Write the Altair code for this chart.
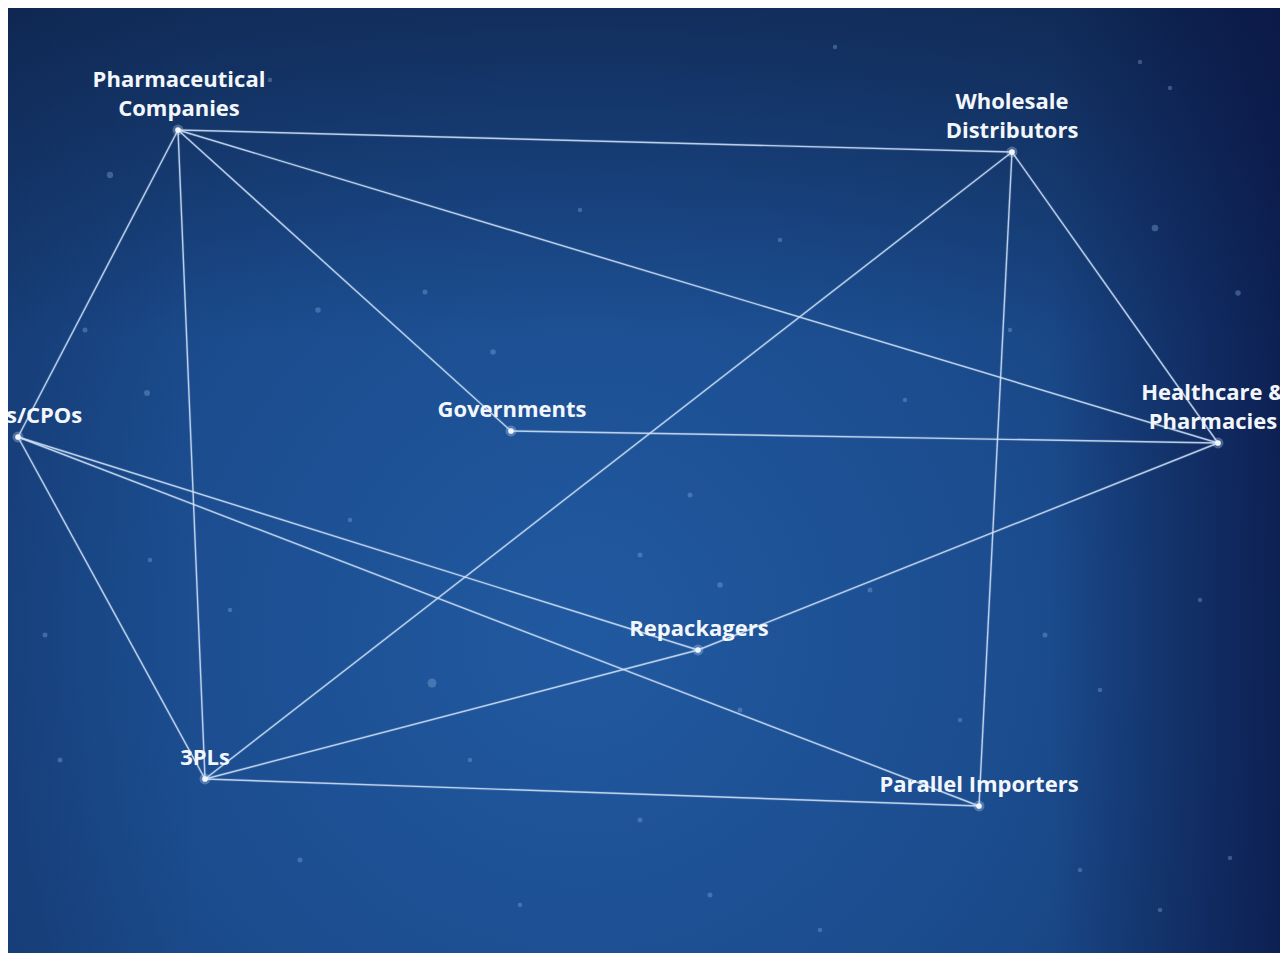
import altair as alt
import pandas as pd

# ---- data (pixel-like coordinates of the diagram) ----
node_names = ["Pharmaceutical Companies", "Wholesale Distributors", "CMOs/CPOs", "Governments",
              "Healthcare & Pharmacies", "Repackagers", "3PLs", "Parallel Importers"]
node_x = [178, 1012, 18, 511, 1218, 698, 205, 979]
node_y = [130, 152, 437, 431, 443, 650, 779, 806]
# label as it shows in the picture: upper line (if any) and lower line
label_top = ["Pharmaceutical", "Wholesale", "", "", "Healthcare &", "", "", ""]
label_bottom = ["Companies", "Distributors", "s/CPOs", "Governments", "Pharmacies",
                "Repackagers", "3PLs", "Parallel Importers"]
label_align = ["center", "center", "left", "center", "center", "center", "center", "center"]
label_x = [179, 1012, 6, 512, 1213, 699, 205, 979]

edge_source = ["Pharmaceutical Companies", "Pharmaceutical Companies", "Pharmaceutical Companies",
               "Pharmaceutical Companies", "Pharmaceutical Companies", "Wholesale Distributors",
               "Wholesale Distributors", "Wholesale Distributors", "Governments", "CMOs/CPOs",
               "CMOs/CPOs", "CMOs/CPOs", "Healthcare & Pharmacies", "Repackagers", "3PLs"]
edge_target = ["Wholesale Distributors", "Healthcare & Pharmacies", "Governments", "3PLs",
               "CMOs/CPOs", "Healthcare & Pharmacies", "Parallel Importers", "3PLs",
               "Healthcare & Pharmacies", "3PLs", "Repackagers", "Parallel Importers",
               "Repackagers", "3PLs", "Parallel Importers"]

# faint background particles seen in the picture
particle_x = [110, 318, 425, 493, 147, 1140, 1155, 1238, 1170, 835, 432, 45, 720, 740, 690,
              640, 1045, 1100, 960, 870, 300, 520, 710, 1080, 1160, 1230, 60, 85, 230, 640,
              270, 580, 780, 905, 1010, 350, 150, 1200, 470, 820]
particle_y = [175, 310, 292, 352, 393, 62, 228, 293, 88, 47, 683, 635, 585, 710, 495,
              555, 635, 690, 720, 590, 860, 905, 895, 870, 910, 858, 760, 330, 610, 820,
              80, 210, 240, 400, 330, 520, 560, 600, 760, 930]
particle_size = [40, 30, 25, 30, 35, 20, 45, 30, 20, 20, 80, 25, 30, 25, 25,
                 25, 25, 20, 20, 25, 25, 20, 25, 20, 20, 20, 25, 25, 20, 25,
                 20, 20, 20, 20, 20, 20, 20, 20, 20, 20]

W, H = 1272, 945
X0, X1 = 8, 8 + W
Y0, Y1 = 8, 8 + H

pos = {n: (x, y) for n, x, y in zip(node_names, node_x, node_y)}
nodes = pd.DataFrame({"name": node_names, "x": node_x, "y": node_y})
edges = pd.DataFrame({
    "x": [pos[s][0] for s in edge_source], "y": [pos[s][1] for s in edge_source],
    "x2": [pos[t][0] for t in edge_target], "y2": [pos[t][1] for t in edge_target],
})
labels = pd.DataFrame({"x": label_x, "y": node_y, "top": label_top, "bottom": label_bottom,
                       "align": label_align})
particles = pd.DataFrame({"x": particle_x, "y": particle_y, "s": particle_size})

xs = alt.Scale(domain=[X0, X1], nice=False, zero=False)
ys = alt.Scale(domain=[Y0, Y1], nice=False, zero=False, reverse=True)
X = lambda f: alt.X(f, type="quantitative", scale=xs, axis=None)
Y = lambda f: alt.Y(f, type="quantitative", scale=ys, axis=None)

bg_grad = alt.RadialGradient(
    gradient="radial",
    x1=0.45, y1=0.62, r1=0.0, x2=0.45, y2=0.62, r2=0.78,
    stops=[alt.GradientStop(offset=0, color="#2159a0"),
           alt.GradientStop(offset=0.45, color="#1b4c8e"),
           alt.GradientStop(offset=0.8, color="#163d76"),
           alt.GradientStop(offset=1, color="#10295c")],
)
edge_grad = alt.LinearGradient(
    gradient="linear", x1=0, y1=0, x2=1, y2=0,
    stops=[alt.GradientStop(offset=0, color="rgba(12,30,70,0.15)"),
           alt.GradientStop(offset=0.15, color="rgba(12,30,70,0)"),
           alt.GradientStop(offset=0.82, color="rgba(10,22,70,0)"),
           alt.GradientStop(offset=1, color="rgba(10,22,70,0.75)")],
)
top_grad = alt.LinearGradient(
    gradient="linear", x1=0, y1=0, x2=0, y2=1,
    stops=[alt.GradientStop(offset=0, color="rgba(12,28,62,0.55)"),
           alt.GradientStop(offset=0.35, color="rgba(12,28,62,0)"),
           alt.GradientStop(offset=1, color="rgba(12,28,62,0)")],
)
one = pd.DataFrame({"a": [0]})
full = dict(x=alt.value(0), x2=alt.value(W), y=alt.value(0), y2=alt.value(H))
bg = alt.Chart(one).mark_rect(color=bg_grad).encode(**full)
bg2 = alt.Chart(one).mark_rect(color=edge_grad).encode(**full)
bg3 = alt.Chart(one).mark_rect(color=top_grad).encode(**full)

parts = alt.Chart(particles).mark_circle(color="#8fb4e6", opacity=0.35).encode(
    x=X("x"), y=Y("y"), size=alt.Size("s:Q", scale=None, legend=None))

edge_glow = alt.Chart(edges).mark_rule(color="#9fc3ee", strokeWidth=3, opacity=0.18).encode(
    x=X("x"), y=Y("y"), x2="x2", y2="y2")
edge_layer = alt.Chart(edges).mark_rule(color="#d3e4f7", strokeWidth=1.4, opacity=0.85).encode(
    x=X("x"), y=Y("y"), x2="x2", y2="y2")

glow = alt.Chart(nodes).mark_circle(color="#cfe4ff", size=120, opacity=0.3).encode(x=X("x"), y=Y("y"))
dots = alt.Chart(nodes).mark_circle(color="#f2f8ff", size=32, opacity=1).encode(x=X("x"), y=Y("y"))

txt_style = dict(font="Open Sans", fontSize=22, fontWeight="bold", color="#f3f7fc",
                 baseline="middle")
layers = [bg, bg3, bg2, parts, edge_glow, edge_layer, glow, dots]
for a in ["center", "left"]:
    sub = labels[labels["align"] == a]
    layers.append(alt.Chart(sub).mark_text(align=a, dy=-21, **txt_style).encode(
        x=X("x"), y=Y("y"), text="bottom:N"))
    layers.append(alt.Chart(sub).mark_text(align=a, dy=-50, **txt_style).encode(
        x=X("x"), y=Y("y"), text="top:N"))

chart = alt.layer(*layers).properties(
    width=W, height=H, padding=0,
    autosize=alt.AutoSizeParams(type="none"),
    background="#ffffff",
).configure_view(stroke=None)

chart.save("out.html", embed_options={"renderer": "svg", "actions": False})
